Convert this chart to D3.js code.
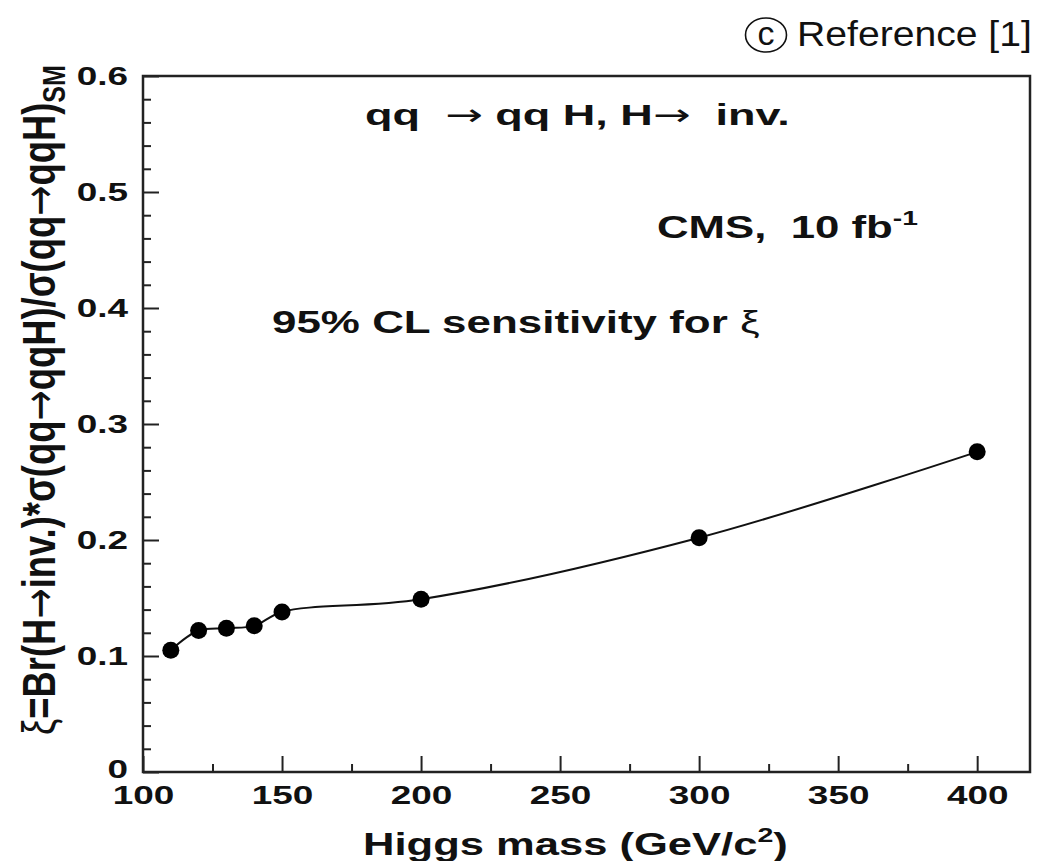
<!DOCTYPE html>
<html>
<head>
<meta charset="utf-8">
<script src="https://cdn.jsdelivr.net/npm/d3@7"></script>
<style>
  body { margin: 0; background: #fff; }
  text { font-family: "Liberation Sans", Arial, sans-serif; fill: #111; }
  .arrow { font-family: "DejaVu Sans", sans-serif; font-weight: normal; }
</style>
</head>
<body>
<div id="chart"></div>
<script>
// Data
let masses = [110, 120, 130, 140, 150, 200, 300, 400];
let xiLimit = [0.105, 0.122, 0.124, 0.126, 0.138, 0.149, 0.202, 0.276];
let xMajor = [100, 150, 200, 250, 300, 350, 400];
let xMinor = [125, 175, 225, 275, 325, 375];
let yMajor = [0, 0.1, 0.2, 0.3, 0.4, 0.5, 0.6];
let yMinor = d3.range(0.02, 0.6, 0.02).filter(function(v) {
    return Math.abs(v * 10 - Math.round(v * 10)) > 0.01;
});

let width = 1037;
let height = 861;
// plot frame
let plotLeft = 143, plotRight = 1030, plotTop = 76, plotBottom = 772;
// the original picture is stretched sideways
let stretch = 1.42;

let svg = d3.select("#chart")
    .append("svg")
    .attr("width", width)
    .attr("height", height);

let xScale = d3.scaleLinear().domain([100, 419]).range([plotLeft, plotRight]);
let yScale = d3.scaleLinear().domain([0, 0.6]).range([plotBottom, plotTop]);

// Axes: ticks drawn inside the frame
function styleTicks(g) {
    g.select(".domain").remove();
    g.selectAll(".tick line").attr("stroke", "#222").attr("stroke-width", 2);
    g.selectAll(".tick text")
        .attr("font-size", 26)
        .attr("font-weight", "bold")
        .attr("fill", "#111");
}

let xAxis = d3.axisBottom(xScale)
    .tickValues(xMajor)
    .tickSize(-16)
    .tickSizeOuter(0)
    .tickPadding(14)
    .tickFormat(d3.format("d"));
let xAxisMinor = d3.axisBottom(xScale)
    .tickValues(xMinor)
    .tickSize(-8)
    .tickSizeOuter(0)
    .tickFormat("");
let yAxis = d3.axisLeft(yScale)
    .tickValues(yMajor)
    .tickSize(-16)
    .tickSizeOuter(0)
    .tickPadding(10.5)
    .tickFormat(function(d) { return d === 0 ? "0" : d.toFixed(1); });
let yAxisMinor = d3.axisLeft(yScale)
    .tickValues(yMinor)
    .tickSize(-8)
    .tickSizeOuter(0)
    .tickFormat("");

svg.append("g")
    .attr("class", "xAxis")
    .attr("transform", "translate(0," + plotBottom + ")")
    .call(xAxis)
    .call(styleTicks);
svg.append("g")
    .attr("transform", "translate(0," + plotBottom + ")")
    .call(xAxisMinor)
    .call(styleTicks);
svg.append("g")
    .attr("class", "yAxis")
    .attr("transform", "translate(" + plotLeft + ",0)")
    .call(yAxis)
    .call(styleTicks);
svg.append("g")
    .attr("transform", "translate(" + plotLeft + ",0)")
    .call(yAxisMinor)
    .call(styleTicks);

// stretch tick labels sideways like the original
svg.selectAll(".xAxis .tick text, .yAxis .tick text")
    .attr("transform", "scale(" + stretch + ",1)");
// the zero label sits a little high, over the "100"
svg.selectAll(".yAxis .tick text").filter(function(d) { return d === 0; })
    .attr("dy", "0.2em");

// frame
svg.append("rect")
    .attr("x", plotLeft)
    .attr("y", plotTop)
    .attr("width", plotRight - plotLeft)
    .attr("height", plotBottom - plotTop)
    .attr("fill", "none")
    .attr("stroke", "#222")
    .attr("stroke-width", 2.5);

// Curve + markers
let pts = masses.map(function(m, i) { return [m, xiLimit[i]]; });
let line = d3.line()
    .x(function(d) { return xScale(d[0]); })
    .y(function(d) { return yScale(d[1]); })
    .curve(d3.curveCatmullRom.alpha(0.5));

svg.append("path")
    .datum(pts)
    .attr("d", line)
    .attr("fill", "none")
    .attr("stroke", "#111")
    .attr("stroke-width", 2);

svg.selectAll("circle.pt")
    .data(pts)
    .enter()
    .append("circle")
    .attr("class", "pt")
    .attr("cx", function(d) { return xScale(d[0]); })
    .attr("cy", function(d) { return yScale(d[1]); })
    .attr("r", 8.5)
    .attr("fill", "#000");

// Place a text so it starts at x0 on baseline y0 and spans w pixels
function fitText(t, x0, y0, w) {
    let bw = t.node().getBBox().width;
    t.attr("transform", "translate(" + x0 + "," + y0 + ") scale(" + (w / bw) + ",1)");
}

// add pieces to a text; pieces that are arrows get the arrow font
function addParts(t, parts) {
    parts.forEach(function(p) {
        let s = t.append("tspan").text(p);
        if (p === "\u2192") s.attr("class", "arrow");
    });
}

// In-plot labels
let t1 = svg.append("text")
    .attr("font-size", 30)
    .attr("font-weight", "bold")
    .attr("xml:space", "preserve");
addParts(t1, ["qq  ", "\u2192", " qq H, H", "\u2192", "  inv."]);
fitText(t1, 365, 125, 425);

let t2 = svg.append("text")
    .attr("font-size", 31)
    .attr("font-weight", "bold")
    .attr("xml:space", "preserve");
t2.append("tspan").text("CMS,  10 fb");
t2.append("tspan").attr("font-size", 20).attr("dy", -13).text("-1");
fitText(t2, 657, 238, 261);

let t3 = svg.append("text")
    .attr("font-size", 31)
    .attr("font-weight", "bold");
t3.append("tspan").text("95% CL sensitivity for ");
t3.append("tspan").attr("font-weight", "normal").text("\u03BE");
fitText(t3, 272, 333, 488);

// x title
let xt = svg.append("text")
    .attr("font-size", 32)
    .attr("font-weight", "bold");
xt.append("tspan").text("Higgs mass (GeV/c");
xt.append("tspan").attr("font-size", 21).attr("dy", -13).text("2");
xt.append("tspan").attr("dy", 13).text(")");
fitText(xt, 363, 855, 425);

// y title, rotated
let yt = svg.append("text")
    .attr("font-size", 32)
    .attr("font-weight", "bold");
yt.append("tspan").attr("font-weight", "normal").text("\u03BE");
addParts(yt, ["=Br(H", "\u2192", "inv.)*\u03C3(qq", "\u2192", "qqH)/\u03C3(qq", "\u2192", "qqH)"]);
yt.append("tspan").attr("font-size", 22).attr("dy", 7).text("SM");
let ylen = yt.node().getBBox().width;
yt.attr("transform", "translate(55,735) rotate(-90) scale(" + (670 / ylen) + "," + stretch + ")");

// copyright mark top right
svg.append("ellipse")
    .attr("cx", 766)
    .attr("cy", 35)
    .attr("rx", 20.5)
    .attr("ry", 17)
    .attr("fill", "none")
    .attr("stroke", "#111")
    .attr("stroke-width", 1.6);
svg.append("text")
    .attr("x", 766)
    .attr("y", 45)
    .attr("text-anchor", "middle")
    .attr("font-size", 34)
    .text("c");
let cr = svg.append("text")
    .attr("font-size", 35)
    .text("Reference [1]");
fitText(cr, 797, 46, 235);
</script>
</body>
</html>
